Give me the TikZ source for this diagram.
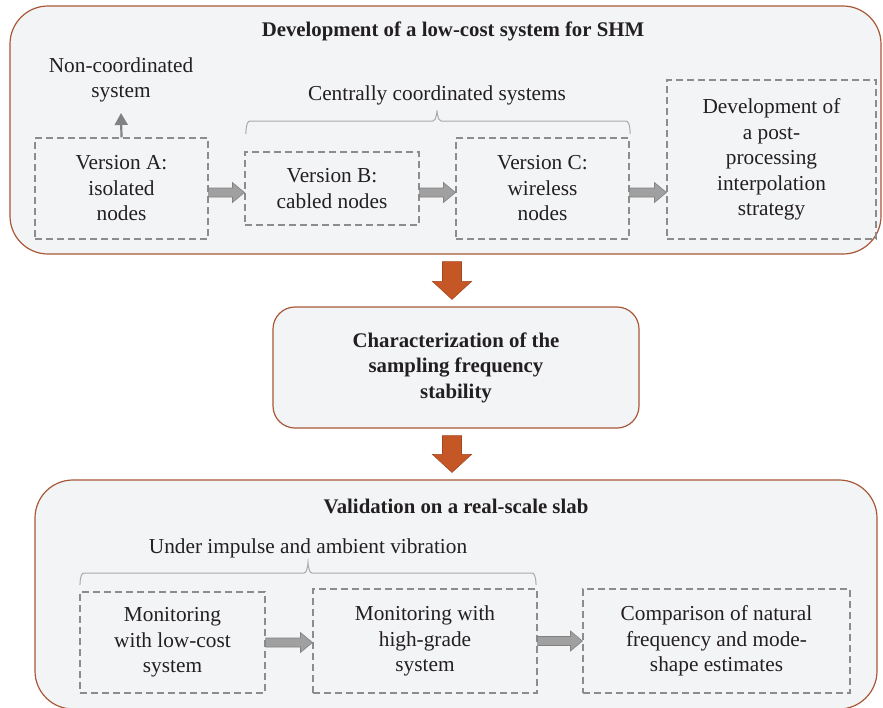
\documentclass[tikz,border=0pt]{standalone}
\usepackage{fontspec}
\setmainfont{Liberation Serif}
\usetikzlibrary{calc,arrows.meta}
\definecolor{panelfill}{RGB}{243,244,246}
\definecolor{panelline}{RGB}{168,88,54}
\definecolor{orfill}{RGB}{197,87,39}
\definecolor{orline}{RGB}{165,70,30}
\definecolor{dashgray}{RGB}{140,140,140}
\definecolor{arrgray}{RGB}{160,160,160}
\definecolor{arrline}{RGB}{130,130,130}
\definecolor{bracegray}{RGB}{170,170,170}
\definecolor{txt}{RGB}{35,31,32}
\newcommand\basefont{\fontsize{21.3}{25.5}\selectfont}
\newcommand\boldfont{\fontsize{20.8}{25.5}\selectfont\bfseries}
\tikzset{
  panel/.style={draw=panelline, fill=panelfill, line width=1.2pt, rounded corners=38pt, inner sep=0pt},
  midpanel/.style={draw=panelline, fill=panelfill, line width=1.2pt, rounded corners=22pt, inner sep=0pt, align=center, font=\boldfont},
  dbox/.style={draw=dashgray, line width=1.1pt, dash pattern=on 7pt off 4pt, inner sep=0pt, align=center},
  lbl/.style={align=center, inner sep=0pt},
  ttl/.style={align=center, inner sep=0pt, font=\boldfont},
  garr/.style={fill=arrgray, draw=arrline, line width=0.6pt},
  oarr/.style={fill=orfill, draw=orline, line width=0.6pt},
  bracestyle/.style={draw=bracegray, line width=1pt},
}
\newcommand\harrow[3]{%
  \filldraw[garr] let \p1=($(#1.center)+(0,#3)$), \p2=(#2.west), \p3=(#1.east) in
  (\x3,\y1+4.5pt) -- (\x2-12pt,\y1+4.5pt) -- (\x2-12pt,\y1+10pt) -- (\x2,\y1)
  -- (\x2-12pt,\y1-10pt) -- (\x2-12pt,\y1-4.5pt) -- (\x3,\y1-4.5pt) -- cycle;}
\newcommand\varrow[3]{%
  \filldraw[oarr] let \p1=(#1.south), \p2=(#2.north), \p3=(#3.center) in
  (\x3-4pt-9.5pt,\y1-7pt) -- (\x3-4pt+9.5pt,\y1-7pt) -- (\x3-4pt+9.5pt,\y2+25pt)
  -- (\x3-4pt+19.5pt,\y2+25pt) -- (\x3-4pt,\y2+7pt) -- (\x3-4pt-19.5pt,\y2+25pt)
  -- (\x3-4pt-9.5pt,\y2+25pt) -- cycle;}
\begin{document}
\begin{tikzpicture}[x=1pt,y=-1pt, font=\basefont, text=txt]
\useasboundingbox (0,0) rectangle (883,707);
% top panel
\node[panel, minimum width=871pt, minimum height=248pt] (outer1) at (445.5,130) {};
\node[ttl] (t1) at (453,31) {Development of a low-cost system for SHM};
\node[lbl] (noncoord) at (121,80) {Non-coordinated\\system};
\node[lbl] (central) at (437,95) {Centrally coordinated systems};
\node[dbox, minimum width=173pt, minimum height=101pt] (A) at (121.5,188.5) {Version A:\\isolated\\nodes};
\node[dbox, minimum width=174pt, minimum height=73pt] (B) at (332,188.5) {Version B:\\cabled nodes};
\node[dbox, minimum width=173pt, minimum height=101pt] (C) at (542.5,188.5) {Version C:\\wireless\\nodes};
\node[dbox, minimum width=209pt, minimum height=159pt] (D) at (771.5,159.5) {Development of\\a post-\\processing\\interpolation\\strategy};
\coordinate (upend) at (121,113);
\draw[draw=arrline, line width=2.2pt, -{Triangle[width=13pt,length=12pt]}] (A.north) -- (upend);
\draw[bracestyle] (246,133) to[out=-90,in=180] (250,121) -- (433,121) to[out=0,in=90] (437,112)
  to[out=90,in=180] (441,121) -- (626,121) to[out=0,in=-90] (630,133);
\harrow{A}{B}{-4pt}
\harrow{B}{C}{-4pt}
\harrow{C}{D}{-4pt}
% middle
\node[midpanel, minimum width=366pt, minimum height=121pt] (mid) at (456,367.5) {Characterization of the\\sampling frequency\\stability};
% bottom panel
\node[panel, minimum width=842pt, minimum height=229pt] (outer2) at (456,594.5) {};
\node[ttl] (t2) at (456,506) {Validation on a real-scale slab};
\node[lbl] (under) at (308,548) {Under impulse and ambient vibration};
\draw[bracestyle] (80,584) to[out=-90,in=180] (84,573) -- (304,573) to[out=0,in=90] (308,563)
  to[out=90,in=180] (312,573) -- (532,573) to[out=0,in=-90] (536,584);
\node[dbox, minimum width=185pt, minimum height=101pt] (M1) at (172.5,642.5) {Monitoring\\with low-cost\\system};
\node[dbox, minimum width=224pt, minimum height=104pt] (M2) at (425,641) {Monitoring with\\high-grade\\system};
\node[dbox, minimum width=267pt, minimum height=104pt] (M3) at (716.5,641) {Comparison of natural\\frequency and mode-\\shape estimates};
\harrow{M1}{M2}{0pt}
\harrow{M2}{M3}{0pt}
% orange arrows
\varrow{outer1}{mid}{mid}
\varrow{mid}{outer2}{mid}
\end{tikzpicture}
\end{document}
